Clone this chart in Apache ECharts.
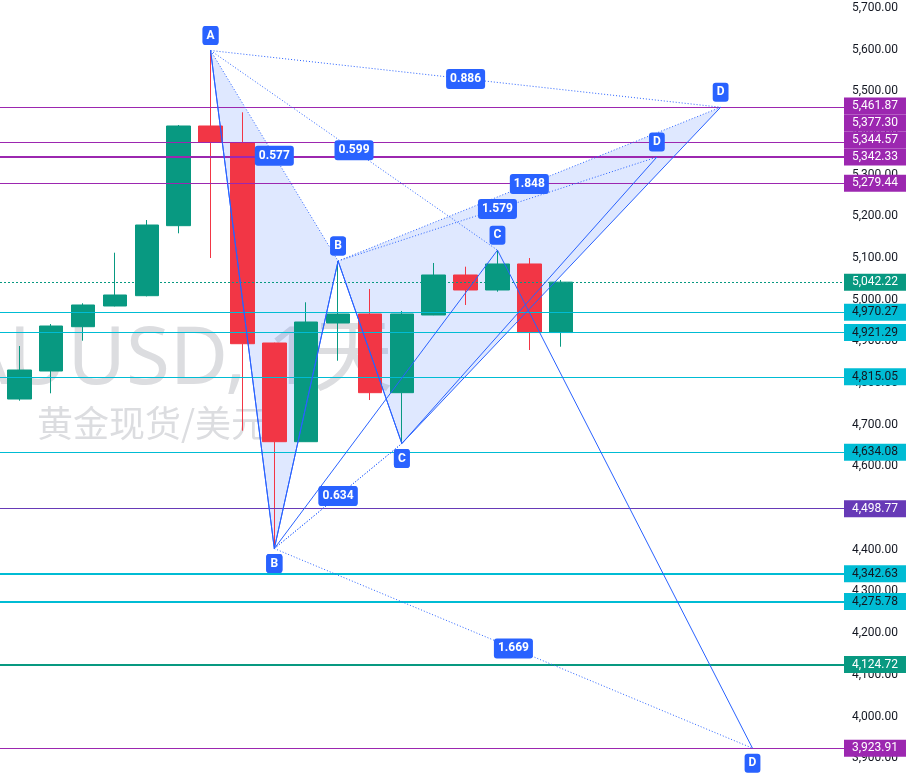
<!DOCTYPE html>
<html><head><meta charset="utf-8">
<script src="https://cdn.jsdelivr.net/npm/echarts@6/dist/echarts.min.js"></script>
<style>html,body{margin:0;padding:0;background:#fff}#c{width:908px;height:774px}</style>
</head><body><div id="c"></div>
<script>
// ---- candles (daily XAUUSD) ----
const barIndex = [0,1,2,3,4,5,6,7,8,9,10,11,12,13,14,15,16,17];
const opens  = [4761.8,4829.0,4935.3,4985.0,5009.7,5177.7,5416.9,5377.3,4896.2,4659.4,4944.2,4965.8,4777.0,4963.4,5059.4,5023.4,5085.8,4921.29];
const closes = [4831.4,4937.0,4987.4,5011.4,5179.3,5416.9,5377.3,4894.5,4659.4,4946.6,4965.8,4777.0,4965.8,5059.4,5023.4,5085.8,4921.29,5042.22];
const lows   = [4757.8,4775.5,4901.7,4984.0,5008.0,5159.4,5100.1,4685.8,4403.0,4659.0,4853.7,4759.4,4655.0,4963.0,4987.4,5019.3,4879.4,4887.3];
const highs  = [4889.0,4941.8,4991.5,5112.9,5191.3,5419.3,5598.0,5449.7,4897.0,4993.9,5093.0,5025.8,4973.0,5088.2,5079.3,5119.0,5100.1,5047.4];

// ---- horizontal levels ----
const levelValues = [5461.87,5377.30,5344.57,5342.33,5279.44,4970.27,4921.29,4815.05,4634.08,4498.77,4342.63,4275.78,4124.72,3923.91];
const levelKinds  = ['p','p','p','p','p','c','c','c','c','v','c2','c2','t','p'];
const lastPrice = 5042.22;

// ---- harmonic patterns ----
const xabcdIdx    = [6, 8, 10, 12, 22];
const xabcdPrice  = [5598, 4403, 5093, 4655, 5461.87];
const xabcdLetters = ['X','A','B','C','D'];
const xabcdRatios = ['0.577','0.634','1.848','0.886'];
const abcd1Idx    = [6, 8, 15, 23];
const abcd1Price  = [5598, 4403, 5119, 3923.91];
const abcd1Letters = ['A','B','C','D'];
const abcd1Ratios = ['0.599','1.669'];
const abcd2Idx    = [8, 10, 12, 20];
const abcd2Price  = [4403, 5093, 4655, 5342.33];
const abcd2Letters = ['A','B','C','D'];
const abcd2Ratios = ['0.634','1.579'];

const watermark1 = 'XAUUSD, 1天';
const watermark2 = '黄金现货/美元';

// ---- styles ----
const KIND = {
  p:  {color:'#9c27b0', text:'#ffffff', width:1},
  c:  {color:'#00bcd4', text:'#131722', width:1},
  c2: {color:'#00bcd4', text:'#131722', width:2},
  v:  {color:'#673ab7', text:'#ffffff', width:1},
  t:  {color:'#089981', text:'#ffffff', width:2}
};
const BLUE = '#2962ff';
const UP = '#089981', DOWN = '#f23645';
const FONT = 'Roboto, "Liberation Sans", sans-serif';
const fmt = v => v.toLocaleString('en-US',{minimumFractionDigits:2, maximumFractionDigits:2});

function segs(idx, price, pairs){
  return pairs.map(([a,b]) => [idx[a], price[a], idx[b], price[b]]);
}
function chain(idx, price){
  const out=[]; for(let i=0;i<idx.length-1;i++) out.push([idx[i],price[i],idx[i+1],price[i+1]]); return out;
}
const XABCD_DOTS = [[0,2],[1,3],[2,4],[0,4]];
const ABCD_DOTS = [[0,2],[1,3]];

const solidSegs = [].concat(chain(xabcdIdx,xabcdPrice), chain(abcd1Idx,abcd1Price), chain(abcd2Idx,abcd2Price));
const dotSegs = [].concat(segs(xabcdIdx,xabcdPrice,XABCD_DOTS), segs(abcd1Idx,abcd1Price,ABCD_DOTS), segs(abcd2Idx,abcd2Price,ABCD_DOTS));
const fills = [
  [xabcdIdx[0],xabcdPrice[0],xabcdIdx[1],xabcdPrice[1],xabcdIdx[2],xabcdPrice[2]],
  [xabcdIdx[2],xabcdPrice[2],xabcdIdx[3],xabcdPrice[3],xabcdIdx[4],xabcdPrice[4]]
];

function pointLabels(idx, price, letters){
  return idx.map((x,i)=>{
    const nb = [price[i-1], price[i+1]].filter(v=>v!==undefined);
    const peak = nb.every(v=>price[i]>v);
    return {value:[x,price[i]], label:{position: peak?'top':'bottom', formatter: letters[i]}};
  });
}
function ratioLabels(idx, price, pairs, ratios){
  return pairs.map(([a,b],k)=>({value:[(idx[a]+idx[b])/2,(price[a]+price[b])/2], label:{formatter: ratios[k]}}));
}
const letterData = [].concat(
  pointLabels(abcd2Idx,abcd2Price,abcd2Letters),
  pointLabels(xabcdIdx,xabcdPrice,xabcdLetters),
  pointLabels(abcd1Idx,abcd1Price,abcd1Letters));
const ratioData = [].concat(
  ratioLabels(abcd2Idx,abcd2Price,ABCD_DOTS,abcd2Ratios),
  ratioLabels(xabcdIdx,xabcdPrice,XABCD_DOTS,xabcdRatios),
  ratioLabels(abcd1Idx,abcd1Price,ABCD_DOTS,abcd1Ratios));

function segRender(dash){
  return function(params, api){
    const p1 = api.coord([api.value(0), api.value(1)]);
    const p2 = api.coord([api.value(2), api.value(3)]);
    return {type:'line', shape:{x1:p1[0],y1:p1[1],x2:p2[0],y2:p2[1]},
      style:{stroke:BLUE, lineWidth:1, lineDash:dash, opacity: 1}};
  };
}

function buildOption(offsets){
  const lineItems = levelValues.map((v,i)=>{
    const k = KIND[levelKinds[i]];
    return {yAxis:v,
      lineStyle:{color:k.color, width:k.width, type:'solid'},
      label:{show:true, position:'end', distance:0, formatter: fmt(v),
        backgroundColor:k.color, color:k.text, fontFamily:FONT, fontSize:12, lineHeight:13,
        padding:[2,8,2,8], offset:[0, offsets ? offsets[i] : 0]}};
  });
  lineItems.push({yAxis:lastPrice,
    lineStyle:{color:UP, width:1, type:[2,2]},
    label:{show:true, position:'end', distance:0, formatter: fmt(lastPrice),
      backgroundColor:UP, color:'#ffffff', fontFamily:FONT, fontSize:12, lineHeight:13,
      padding:[2,8,2,8], offset:[0, offsets ? offsets[levelValues.length] : 0]}});
  const labelBox = {show:true, backgroundColor:BLUE, color:'#ffffff', fontFamily:FONT,
         fontWeight:'bold', fontSize:12, padding:[3,4,3,4], borderRadius:3, opacity:1};
  return {
    animation:false,
    backgroundColor:'#ffffff',
    grid:{left:0, right:64, top:-33.68, bottom:-25.88, containLabel:false, outerBoundsMode:'none'},
    graphic:[
      {type:'text', x:152, y:361, z:-10, silent:true,
       style:{text:watermark1, fontSize:80, fontFamily:'"Noto Sans", "Noto Sans CJK SC", sans-serif', fill:'#dcdde0', align:'center', verticalAlign:'middle'}},
      {type:'text', x:152, y:423, z:-10, silent:true,
       style:{text:watermark2, fontSize:36, fontFamily:'"Noto Sans CJK SC", sans-serif', fill:'#dcdde0', align:'center', verticalAlign:'middle'}}
    ],
    xAxis:{type:'value', min:-0.605, max:25.87, show:false, splitLine:{show:false}},
    yAxis:{type:'value', position:'right', min:3800, max:5800, interval:100, scale:true,
      axisLine:{show:false}, axisTick:{show:false}, splitLine:{show:false},
      axisLabel:{color:'#131722', fontFamily:FONT, fontSize:12, margin:8, formatter:v=>fmt(v)}},
    series:[
      {type:'custom', name:'fill', z:1, silent:true, clip:false,
       encode:{x:[0,2,4], y:[1,3,5]}, data:fills,
       renderItem:(params, api)=>{
         const pts=[0,2,4].map(j=>api.coord([api.value(j),api.value(j+1)]));
         return {type:'polygon', shape:{points:pts}, style:{fill:'rgba(41,98,255,0.15)', stroke:'none'}};
       }},
      {type:'candlestick', z:2, silent:true, barWidth:24,
       data: barIndex.map((x,k)=>[x, opens[k], closes[k], lows[k], highs[k]]),
       encode:{x:0, y:[1,2,3,4]},
       itemStyle:{color:UP, color0:DOWN, borderColor:UP, borderColor0:DOWN, borderWidth:1},
       markLine:{symbol:'none', silent:true, animation:false, z:4, data:lineItems}},
      {type:'custom', name:'solid', z:5, silent:true, clip:false,
       encode:{x:[0,2], y:[1,3]}, data:solidSegs, renderItem:segRender(null)},
      {type:'custom', name:'dotted', z:5, silent:true, clip:false,
       encode:{x:[0,2], y:[1,3]}, data:dotSegs, renderItem:segRender([1,2])},
      {type:'scatter', z:8, silent:true, symbolSize:1, itemStyle:{color:'rgba(0,0,0,0)', opacity:1},
       data:ratioData,
       label:Object.assign({position:'inside', lineHeight:14}, labelBox)},
      {type:'scatter', z:9, silent:true, symbolSize:1, itemStyle:{color:'rgba(0,0,0,0)', opacity:1},
       data:letterData,
       label:Object.assign({distance:5, lineHeight:13}, labelBox)}
    ]
  };
}

const chart = echarts.init(document.getElementById('c'));
chart.setOption(buildOption(null));

// stack price labels on the axis so they don't overlap (bottom-up)
const allVals = levelValues.concat([lastPrice]);
const nat = allVals.map(v => chart.convertToPixel({yAxisIndex:0}, v));
const order = allVals.map((v,i)=>i).sort((a,b)=>nat[b]-nat[a]);
const H = 17;
const offsets = new Array(allVals.length).fill(0);
let prev = Infinity;
order.forEach(i=>{
  const pos = Math.min(nat[i], prev - H);
  offsets[i] = pos - nat[i];
  prev = pos;
});
chart.setOption(buildOption(offsets));
</script>
</body></html>
